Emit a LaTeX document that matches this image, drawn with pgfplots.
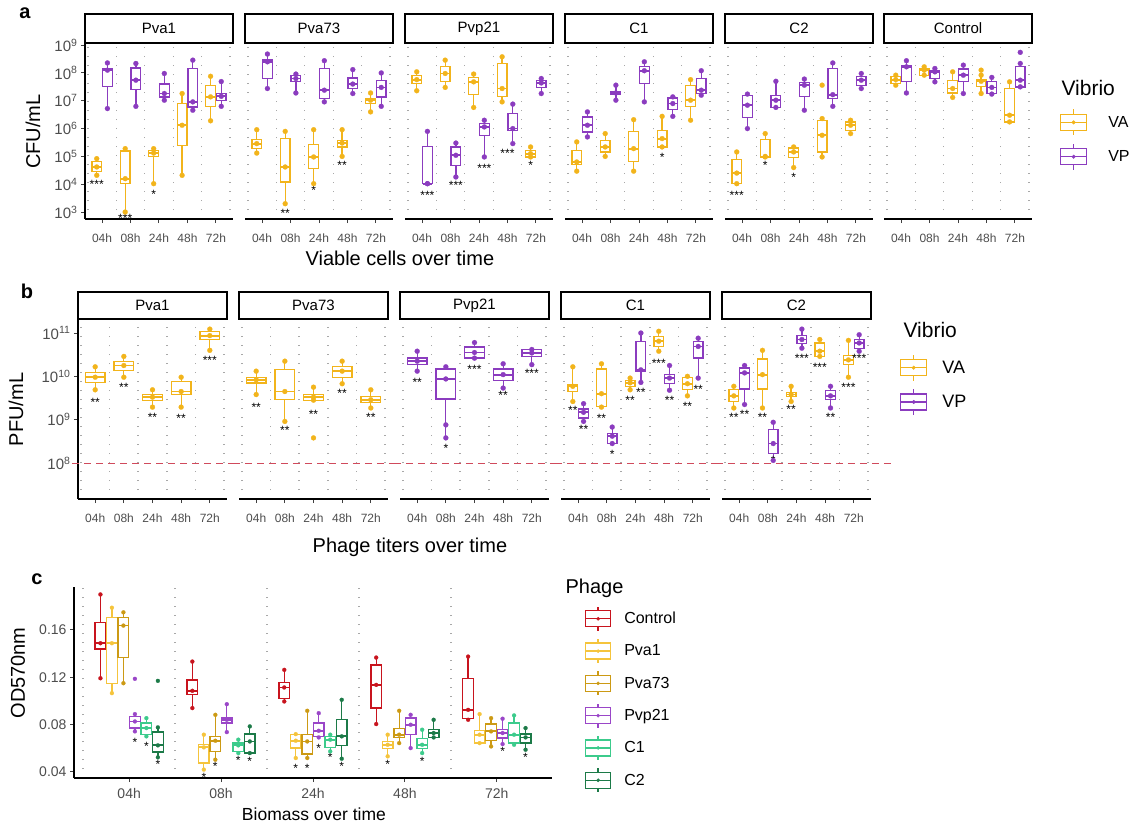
\documentclass[border=0pt]{standalone}
\usepackage{fontspec}
\setmainfont{Liberation Sans}
\usepackage{pgfplots}
\pgfplotsset{compat=1.18}
\usepgfplotslibrary{statistics}

\definecolor{cVA}{HTML}{F2B41B}
\definecolor{cVP}{HTML}{8B3CBF}
\definecolor{cCtl}{HTML}{C8141E}
\definecolor{cPa}{HTML}{F5C43C}
\definecolor{cPb}{HTML}{CC9A14}
\definecolor{cPc}{HTML}{9A46C8}
\definecolor{cCa}{HTML}{3CCB8C}
\definecolor{cCb}{HTML}{1C7A48}
\definecolor{gridc}{HTML}{A8A8A8}
\definecolor{tickc}{HTML}{4D4D4D}
\definecolor{hlc}{HTML}{D04A5C}

\newcommand{\MS}{2.5pt}
% color, pos, width, lw, lq, med, uq, uw, extra coords
\newcommand{\bx}[9]{\addplot[draw=#1, line width=1.3pt, mark=*, mark size=\MS, mark options={fill=#1, draw=#1, line width=0.2pt}, boxplot/draw direction=y,
  boxplot/every box/.style={draw=#1, line width=1.3pt}, boxplot/every whisker/.style={draw=#1, line width=1.3pt}, boxplot/every median/.style={draw=#1, line width=1.8pt},
  boxplot prepared={draw position=#2, box extend=#3, whisker extend=0, lower whisker=#4, lower quartile=#5, median=#6, upper quartile=#7, upper whisker=#8}] coordinates {(#2,#4) (#2,#6) (#2,#8) #9};}
\newcommand{\st}[3]{\node[font=\fontsize{12}{12}\selectfont, inner sep=0pt, yshift=-2pt] at (axis cs:#1,#2) {#3};}
\newcommand{\strip}[3]{\draw[line width=1.2pt, fill=white] ([yshift=1pt]axis description cs:0,1) rectangle ([yshift=#1pt]axis description cs:1,1);
\node[font=\fontsize{15}{15}\selectfont] at ([yshift=#2pt]axis description cs:0.5,1) {#3};}

\pgfplotsset{
 keyA/.style={legend image code/.code={\draw[#1, line width=1.3pt] (0pt,-8pt) rectangle (26pt,8pt); \draw[#1, line width=1.3pt] (0pt,0pt) -- (26pt,0pt); \draw[#1, line width=1.3pt] (13pt,8pt) -- (13pt,13pt); \draw[#1, line width=1.3pt] (13pt,-8pt) -- (13pt,-13pt); \fill[#1] (13pt,0pt) circle (1.8pt);}},
 keyC/.style={legend image code/.code={\draw[#1, line width=1.3pt] (0pt,-8pt) rectangle (25pt,8pt); \draw[#1, line width=1.3pt] (0pt,0pt) -- (25pt,0pt); \draw[#1, line width=1.3pt] (12.5pt,8pt) -- (12.5pt,12pt); \draw[#1, line width=1.3pt] (12.5pt,-8pt) -- (12.5pt,-12pt); \fill[#1] (12.5pt,0pt) circle (1.6pt);}},
 base/.style={scale only axis, xmin=0.4, xmax=5.6, clip=false, anchor=south west,
   axis x line*=bottom, axis y line*=left,
   axis line style={-, line width=1.2pt, black},
   xtick={1,2,3,4,5}, xticklabels={04h,08h,24h,48h,72h},
   tick align=outside, major tick length=4pt, minor tick length=0pt,
   tick style={line width=1pt, black!75},
   xminorgrids, minor grid style={draw=gridc, line width=1.4pt, dash pattern=on 1.4pt off 7.6pt},
   ticklabel style={text=tickc},
   minor xtick={0.5,1.5,2.5,3.5,4.5,5.5},
   xticklabel style={font=\fontsize{12}{12}\selectfont, yshift=-7pt},
   yticklabel style={font=\fontsize{15}{15}\selectfont},
   label style={font=\fontsize{20}{20}\selectfont},
 },
 fa/.style={base, width=148pt, height=175pt, ymin=2.75, ymax=9.04,
   ytick={3,4,5,6,7,8,9}, yticklabels={10\textsuperscript{3},10\textsuperscript{4},10\textsuperscript{5},10\textsuperscript{6},10\textsuperscript{7},10\textsuperscript{8},10\textsuperscript{9}}},
 fb/.style={base, width=149pt, height=179pt, ymin=7.17, ymax=11.3,
   ytick={8,9,10,11}, yticklabels={10\textsuperscript{8},10\textsuperscript{9},10\textsuperscript{10},10\textsuperscript{11}}},
 noy/.style={axis y line=none, ytick=\empty},
 thresh/.style={color=hlc, draw=hlc, line width=1pt, dash pattern=on 7pt off 5pt, forget plot},
}

\begin{document}
\begin{tikzpicture}
\useasboundingbox (0pt,0pt) rectangle (1130pt,-825pt);

% ================= Panel a =================
\begin{axis}[fa, at={(85pt,-219pt)},
  ylabel={CFU/mL}, ylabel style={at={(axis description cs:-0.351,0.5)}, anchor=center},
  xlabel={Viable cells over time}, xlabel style={at={(axis description cs:2.128,-0.223)}, anchor=center}]
\bx{cVA}{0.8125}{0.34}{4.32}{4.46}{4.62}{4.82}{4.92}{}
\bx{cVP}{1.1875}{0.34}{6.72}{7.52}{8.10}{8.16}{8.36}{}
\bx{cVA}{1.8125}{0.34}{3.00}{4.02}{4.20}{5.19}{5.28}{}
\bx{cVP}{2.1875}{0.34}{6.80}{7.40}{7.74}{8.18}{8.34}{}
\bx{cVA}{2.8125}{0.34}{4.02}{5.00}{5.12}{5.22}{5.28}{}
\bx{cVP}{3.1875}{0.34}{7.02}{7.14}{7.26}{7.60}{7.98}{}
\bx{cVA}{3.8125}{0.34}{4.32}{5.40}{6.12}{6.90}{7.26}{}
\bx{cVP}{4.1875}{0.34}{6.66}{6.78}{6.96}{8.16}{8.46}{}
\bx{cVA}{4.8125}{0.34}{6.28}{6.80}{7.14}{7.56}{7.88}{}
\bx{cVP}{5.1875}{0.34}{6.80}{7.02}{7.16}{7.26}{7.69}{}
\st{0.8125}{4.07}{***}
\st{1.8125}{2.85}{***}
\st{2.8125}{3.71}{*}
\strip{30}{15.5}{Pva1}
\node[font=\bfseries\fontsize{20}{20}\selectfont] at ([xshift=-60pt,yshift=31pt]axis description cs:0,1) {a};
\end{axis}

\begin{axis}[fa, noy, at={(245pt,-219pt)}]
\bx{cVA}{0.8125}{0.34}{5.12}{5.28}{5.46}{5.60}{5.96}{}
\bx{cVP}{1.1875}{0.34}{7.44}{7.80}{8.40}{8.46}{8.68}{}
\bx{cVA}{1.8125}{0.34}{3.30}{4.08}{4.62}{5.64}{5.90}{}
\bx{cVP}{2.1875}{0.34}{7.28}{7.70}{7.80}{7.92}{7.96}{}
\bx{cVA}{2.8125}{0.34}{4.02}{4.56}{4.98}{5.43}{5.96}{}
\bx{cVP}{3.1875}{0.34}{6.96}{7.08}{7.38}{8.16}{8.44}{}
\bx{cVA}{3.8125}{0.34}{5.00}{5.34}{5.48}{5.58}{5.96}{}
\bx{cVP}{4.1875}{0.34}{7.26}{7.44}{7.60}{7.82}{8.12}{}
\bx{cVA}{4.8125}{0.34}{6.60}{6.90}{7.02}{7.08}{7.28}{}
\bx{cVP}{5.1875}{0.34}{6.80}{7.14}{7.48}{7.74}{8.00}{}
\st{1.8125}{3.03}{**}
\st{2.8125}{3.86}{*}
\st{3.8125}{4.76}{**}
\strip{30}{15.5}{Pva73}
\end{axis}

\begin{axis}[fa, noy, at={(405pt,-219pt)}]
\bx{cVA}{0.8125}{0.34}{7.36}{7.62}{7.76}{7.92}{8.04}{}
\bx{cVP}{1.1875}{0.34}{4.02}{4.02}{4.02}{5.36}{5.90}{}
\bx{cVA}{1.8125}{0.34}{7.48}{7.68}{7.98}{8.22}{8.46}{}
\bx{cVP}{2.1875}{0.34}{4.26}{4.68}{5.04}{5.34}{5.48}{}
\bx{cVA}{2.8125}{0.34}{6.76}{7.22}{7.68}{7.84}{7.96}{}
\bx{cVP}{3.1875}{0.34}{4.98}{5.76}{6.06}{6.18}{6.30}{}
\bx{cVA}{3.8125}{0.34}{6.96}{7.16}{7.44}{8.34}{8.58}{}
\bx{cVP}{4.1875}{0.34}{5.46}{5.92}{6.00}{6.54}{6.88}{}
\bx{cVA}{4.8125}{0.34}{4.98}{4.98}{5.10}{5.22}{5.34}{}
\bx{cVP}{5.1875}{0.34}{7.26}{7.48}{7.64}{7.74}{7.80}{}
\st{1.1875}{3.68}{***}
\st{2.1875}{4.04}{***}
\st{3.1875}{4.65}{***}
\st{4.0}{5.19}{***}
\st{4.8125}{4.76}{*}
\strip{30}{15.5}{Pvp21}
\end{axis}

\begin{axis}[fa, noy, at={(565pt,-219pt)}]
\bx{cVA}{0.8125}{0.34}{4.47}{4.71}{4.80}{5.22}{5.52}{}
\bx{cVP}{1.1875}{0.34}{5.70}{5.88}{6.12}{6.42}{6.60}{}
\bx{cVA}{1.8125}{0.34}{5.00}{5.16}{5.34}{5.58}{5.82}{}
\bx{cVP}{2.1875}{0.34}{7.02}{7.24}{7.28}{7.32}{7.56}{}
\bx{cVA}{2.8125}{0.34}{4.47}{4.82}{5.28}{5.90}{6.32}{}
\bx{cVP}{3.1875}{0.34}{6.96}{7.62}{8.08}{8.24}{8.40}{}
\bx{cVA}{3.8125}{0.34}{5.34}{5.34}{5.64}{5.94}{6.44}{}
\bx{cVP}{4.1875}{0.34}{6.44}{6.68}{6.90}{7.10}{7.14}{}
\bx{cVA}{4.8125}{0.34}{6.30}{6.80}{7.02}{7.56}{7.76}{}
\bx{cVP}{5.1875}{0.34}{7.20}{7.26}{7.38}{7.80}{8.08}{}
\st{3.8125}{5.04}{*}
\strip{30}{15.5}{C1}
\end{axis}

\begin{axis}[fa, noy, at={(725pt,-219pt)}]
\bx{cVA}{0.8125}{0.34}{4.02}{4.02}{4.40}{4.88}{5.16}{}
\bx{cVP}{1.1875}{0.34}{6.00}{6.40}{6.84}{7.20}{7.24}{}
\bx{cVA}{1.8125}{0.34}{4.98}{4.98}{5.00}{5.60}{5.82}{}
\bx{cVP}{2.1875}{0.34}{6.76}{6.76}{7.02}{7.20}{7.70}{}
\bx{cVA}{2.8125}{0.34}{4.60}{4.96}{5.16}{5.30}{5.34}{}
\bx{cVP}{3.1875}{0.34}{6.66}{7.16}{7.56}{7.66}{7.78}{}
\bx{cVA}{3.8125}{0.34}{4.98}{5.16}{5.76}{6.28}{6.36}{(3.8125,7.56)}
\bx{cVP}{4.1875}{0.34}{6.80}{7.08}{7.22}{8.16}{8.36}{}
\bx{cVA}{4.8125}{0.34}{5.82}{5.94}{6.12}{6.24}{6.30}{}
\bx{cVP}{5.1875}{0.34}{7.44}{7.56}{7.74}{7.88}{7.98}{}
\st{0.8125}{3.68}{***}
\st{1.8125}{4.76}{*}
\st{2.8125}{4.32}{*}
\strip{30}{15.5}{C2}
\end{axis}

\begin{axis}[fa, noy, at={(884pt,-219pt)},
  legend style={at={(1.189,0.63)}, anchor=north west, draw=none, fill=none, inner sep=0pt, outer sep=0pt,
    font=\fontsize{16}{16}\selectfont, row sep=7pt, nodes={inner sep=0pt},
    /tikz/every odd column/.style={column sep=21pt}}, legend cell align=left]
\addlegendimage{keyA=cVA}
\addlegendentry{VA}
\addlegendimage{keyA=cVP}
\addlegendentry{VP}
\bx{cVA}{0.8125}{0.34}{7.56}{7.62}{7.76}{7.86}{7.92}{}
\bx{cVP}{1.1875}{0.34}{7.28}{7.68}{8.22}{8.28}{8.44}{}
\bx{cVA}{1.8125}{0.34}{7.92}{7.92}{8.10}{8.16}{8.22}{}
\bx{cVP}{2.1875}{0.34}{7.68}{7.80}{8.04}{8.10}{8.16}{}
\bx{cVA}{2.8125}{0.34}{7.12}{7.28}{7.44}{7.74}{8.04}{}
\bx{cVP}{3.1875}{0.34}{7.26}{7.68}{7.92}{8.14}{8.28}{}
\bx{cVA}{3.8125}{0.34}{7.26}{7.52}{7.70}{7.76}{7.92}{(3.8125,8.10)}
\bx{cVP}{4.1875}{0.34}{7.24}{7.26}{7.48}{7.70}{7.84}{}
\bx{cVA}{4.8125}{0.34}{6.24}{6.24}{6.48}{7.44}{7.68}{}
\bx{cVP}{5.1875}{0.34}{7.50}{7.50}{7.74}{8.22}{8.34}{(5.1875,8.74)}
\strip{30}{15.5}{Control}
\node[anchor=west, font=\fontsize{21}{21}\selectfont] at (axis description cs:1.176,0.749) {Vibrio};
\end{axis}

% ================= Panel b =================
\begin{axis}[fb, at={(78pt,-499pt)},
  ylabel={PFU/mL}, ylabel style={at={(axis description cs:-0.416,0.5)}, anchor=center},
  xlabel={Phage titers over time}, xlabel style={at={(axis description cs:2.228,-0.268)}, anchor=center}]
\addplot[thresh] coordinates {(0.2,8) (5.81,8)};
\bx{cVA}{1}{0.68}{9.69}{9.86}{9.98}{10.09}{10.22}{}
\bx{cVA}{2}{0.68}{9.98}{10.14}{10.25}{10.35}{10.46}{}
\bx{cVA}{3}{0.68}{9.29}{9.45}{9.52}{9.58}{9.69}{}
\bx{cVA}{4}{0.68}{9.29}{9.58}{9.65}{9.88}{9.98}{}
\bx{cVA}{5}{0.68}{10.60}{10.85}{10.94}{11.04}{11.09}{}
\st{1}{9.45}{**}
\st{2}{9.80}{**}
\st{3}{9.11}{**}
\st{4}{9.08}{**}
\st{5}{10.42}{***}
\strip{28}{14.5}{Pva1}
\node[font=\bfseries\fontsize{20}{20}\selectfont] at ([xshift=-51pt,yshift=29pt]axis description cs:0,1) {b};
\end{axis}

\begin{axis}[fb, noy, at={(239pt,-499pt)}]
\addplot[thresh] coordinates {(0.19,8) (5.81,8)};
\bx{cVA}{1}{0.68}{9.58}{9.85}{9.92}{9.98}{10.12}{}
\bx{cVA}{2}{0.68}{8.96}{9.46}{9.65}{10.15}{10.35}{}
\bx{cVA}{3}{0.68}{9.45}{9.45}{9.52}{9.58}{9.75}{(3,8.58)}
\bx{cVA}{4}{0.68}{9.83}{9.98}{10.12}{10.23}{10.35}{}
\bx{cVA}{5}{0.68}{9.27}{9.40}{9.46}{9.54}{9.69}{}
\st{1}{9.34}{**}
\st{2}{8.81}{**}
\st{3}{9.18}{**}
\st{4}{9.66}{**}
\st{5}{9.11}{**}
\strip{28}{14.5}{Pva73}
\end{axis}

\begin{axis}[fb, noy, at={(400pt,-499pt)}]
\addplot[thresh] coordinates {(0.19,8) (5.81,8)};
\bx{cVP}{1}{0.68}{10.12}{10.27}{10.35}{10.42}{10.58}{}
\bx{cVP}{2}{0.68}{8.58}{9.48}{9.94}{10.17}{10.22}{(2,8.88)}
\bx{cVP}{3}{0.68}{10.42}{10.42}{10.55}{10.68}{10.78}{}
\bx{cVP}{4}{0.68}{9.73}{9.91}{10.04}{10.17}{10.29}{}
\bx{cVP}{5}{0.68}{10.27}{10.46}{10.54}{10.62}{10.62}{}
\st{1}{9.91}{**}
\st{2}{8.39}{*}
\st{3}{10.21}{***}
\st{4}{9.61}{**}
\st{5}{10.12}{***}
\strip{28}{14.5}{Pvp21}
\end{axis}

\begin{axis}[fb, noy, at={(561pt,-499pt)}]
\addplot[thresh] coordinates {(0.19,8) (5.81,8)};
\bx{cVA}{0.8125}{0.34}{9.42}{9.65}{9.77}{9.82}{10.22}{}
\bx{cVP}{1.1875}{0.34}{8.96}{9.04}{9.17}{9.25}{9.37}{}
\bx{cVA}{1.8125}{0.34}{9.29}{9.31}{9.60}{10.17}{10.29}{}
\bx{cVP}{2.1875}{0.34}{8.45}{8.45}{8.62}{8.68}{8.83}{}
\bx{cVA}{2.8125}{0.34}{9.69}{9.77}{9.85}{9.91}{9.96}{}
\bx{cVP}{3.1875}{0.34}{9.86}{10.12}{10.15}{10.81}{11.00}{}
\bx{cVA}{3.8125}{0.34}{10.58}{10.69}{10.81}{10.92}{11.04}{}
\bx{cVP}{4.1875}{0.34}{9.68}{9.83}{9.96}{10.04}{10.25}{}
\bx{cVA}{4.8125}{0.34}{9.55}{9.69}{9.83}{9.98}{10.00}{}
\bx{cVP}{5.1875}{0.34}{9.96}{10.42}{10.69}{10.81}{10.88}{}
\st{0.8125}{9.27}{**}
\st{1.1875}{8.83}{**}
\st{1.8125}{9.08}{**}
\st{2.1875}{8.25}{*}
\st{2.8125}{9.50}{**}
\st{3.1875}{9.68}{**}
\st{3.8125}{10.35}{***}
\st{4.1875}{9.50}{**}
\st{4.8125}{9.36}{**}
\st{5.1875}{9.75}{**}
\strip{28}{14.5}{C1}
\end{axis}

\begin{axis}[fb, noy, at={(722pt,-499pt)},
  legend style={at={(1.195,0.81)}, anchor=north west, draw=none, fill=none, inner sep=0pt, outer sep=0pt,
    font=\fontsize{18}{18}\selectfont, row sep=7pt, nodes={inner sep=0pt},
    /tikz/every odd column/.style={column sep=15pt}}, legend cell align=left]
\addlegendimage{keyA=cVA}
\addlegendentry{VA}
\addlegendimage{keyA=cVP}
\addlegendentry{VP}
\addplot[thresh] coordinates {(0.19,8) (6.4,8)};
\bx{cVA}{0.8125}{0.34}{9.27}{9.42}{9.55}{9.69}{9.77}{}
\bx{cVP}{1.1875}{0.34}{9.35}{9.71}{10.08}{10.19}{10.25}{}
\bx{cVA}{1.8125}{0.34}{9.27}{9.71}{10.04}{10.40}{10.60}{}
\bx{cVP}{2.1875}{0.34}{8.06}{8.22}{8.45}{8.77}{8.94}{}
\bx{cVA}{2.8125}{0.34}{9.42}{9.54}{9.58}{9.62}{9.77}{}
\bx{cVP}{3.1875}{0.34}{10.65}{10.75}{10.85}{10.94}{11.09}{}
\bx{cVA}{3.8125}{0.34}{10.46}{10.46}{10.58}{10.77}{10.85}{}
\bx{cVP}{4.1875}{0.34}{9.27}{9.46}{9.55}{9.68}{9.77}{}
\bx{cVA}{4.8125}{0.34}{9.98}{10.27}{10.38}{10.48}{10.83}{}
\bx{cVP}{5.1875}{0.34}{10.58}{10.65}{10.77}{10.85}{10.96}{}
\st{0.8125}{9.11}{**}
\st{1.1875}{9.18}{**}
\st{1.8125}{9.11}{**}
\st{2.1875}{8.11}{*}
\st{2.8125}{9.29}{**}
\st{3.1875}{10.47}{***}
\st{3.8125}{10.26}{***}
\st{4.1875}{9.11}{**}
\st{4.8125}{9.80}{***}
\st{5.1875}{10.45}{***}
\strip{28}{14.5}{C2}
\node[anchor=west, font=\fontsize{21}{21}\selectfont] at (axis description cs:1.195,0.944) {Vibrio};
\end{axis}

% ================= Panel c =================
\renewcommand{\MS}{2pt}
\begin{axis}[base, at={(74pt,-778pt)}, width=478pt, height=191pt, ymin=0.0349, ymax=0.1963,
  minor xtick={0.5,1.5,2.5,3.5,4.5},
  ytick={0.04,0.08,0.12,0.16}, yticklabels={0.04,0.08,0.12,0.16},
  xticklabel style={font=\fontsize{14}{14}\selectfont, yshift=4pt},
  yticklabel style={font=\fontsize{14}{14}\selectfont},
  ylabel={OD570nm}, ylabel style={at={(axis description cs:-0.117,0.55)}, anchor=center},
  xlabel={Biomass over time}, xlabel style={at={(axis description cs:0.502,-0.188)}, anchor=center, font=\fontsize{17.5}{17.5}\selectfont},
  legend style={at={(1.069,0.90)}, anchor=north west, draw=none, fill=none, inner sep=0pt, outer sep=0pt,
    font=\fontsize{16}{16}\selectfont, row sep=7pt, nodes={inner sep=0pt},
    /tikz/every odd column/.style={column sep=13pt}}, legend cell align=left]
\addlegendimage{keyC=cCtl}
\addlegendentry{Control}
\addlegendimage{keyC=cPa}
\addlegendentry{Pva1}
\addlegendimage{keyC=cPb}
\addlegendentry{Pva73}
\addlegendimage{keyC=cPc}
\addlegendentry{Pvp21}
\addlegendimage{keyC=cCa}
\addlegendentry{C1}
\addlegendimage{keyC=cCb}
\addlegendentry{C2}
% 04h
\bx{cCtl}{0.6875}{0.115}{0.1192}{0.1440}{0.1488}{0.1662}{0.1900}{}
\bx{cPa}{0.8125}{0.115}{0.1066}{0.1150}{0.1488}{0.1704}{0.1788}{}
\bx{cPb}{0.9375}{0.115}{0.1150}{0.1367}{0.1637}{0.1704}{0.1749}{}
\bx{cPc}{1.0625}{0.115}{0.0743}{0.0771}{0.0827}{0.0869}{0.0889}{(1.0625,0.1187)}
\bx{cCa}{1.1875}{0.115}{0.0701}{0.0715}{0.0771}{0.0813}{0.0855}{}
\bx{cCb}{1.3125}{0.115}{0.0524}{0.0569}{0.0625}{0.0737}{0.0777}{(1.3125,0.1170)}
% 08h
\bx{cCtl}{1.6875}{0.115}{0.0940}{0.1052}{0.1086}{0.1178}{0.1333}{}
\bx{cPa}{1.8125}{0.115}{0.0420}{0.0476}{0.0608}{0.0630}{0.0715}{}
\bx{cPb}{1.9375}{0.115}{0.0504}{0.0574}{0.0664}{0.0701}{0.0883}{}
\bx{cPc}{2.0625}{0.115}{0.0737}{0.0813}{0.0841}{0.0855}{0.0973}{}
\bx{cCa}{2.1875}{0.115}{0.0560}{0.0574}{0.0625}{0.0644}{0.0673}{}
\bx{cCb}{2.3125}{0.115}{0.0560}{0.0560}{0.0658}{0.0720}{0.0785}{}
% 24h
\bx{cCtl}{2.6875}{0.115}{0.0996}{0.1018}{0.1114}{0.1156}{0.1263}{}
\bx{cPa}{2.8125}{0.115}{0.0518}{0.0602}{0.0664}{0.0715}{0.0720}{}
\bx{cPb}{2.9375}{0.115}{0.0518}{0.0552}{0.0658}{0.0715}{0.0917}{}
\bx{cPc}{3.0625}{0.115}{0.0692}{0.0701}{0.0748}{0.0813}{0.0897}{}
\bx{cCa}{3.1875}{0.115}{0.0574}{0.0608}{0.0673}{0.0701}{0.0715}{}
\bx{cCb}{3.3125}{0.115}{0.0512}{0.0625}{0.0701}{0.0841}{0.1010}{}
% 48h
\bx{cCtl}{3.6875}{0.115}{0.0805}{0.0940}{0.1136}{0.1305}{0.1367}{}
\bx{cPa}{3.8125}{0.115}{0.0532}{0.0597}{0.0630}{0.0658}{0.0715}{}
\bx{cPb}{3.9375}{0.115}{0.0644}{0.0692}{0.0715}{0.0765}{0.0917}{}
\bx{cPc}{4.0625}{0.115}{0.0602}{0.0715}{0.0799}{0.0855}{0.0883}{}
\bx{cCa}{4.1875}{0.115}{0.0560}{0.0597}{0.0630}{0.0681}{0.0757}{}
\bx{cCb}{4.3125}{0.115}{0.0692}{0.0692}{0.0729}{0.0757}{0.0841}{}
% 72h
\bx{cCtl}{4.6875}{0.115}{0.0841}{0.0850}{0.0925}{0.1192}{0.1375}{}
\bx{cPa}{4.8125}{0.115}{0.0644}{0.0644}{0.0715}{0.0748}{0.0889}{}
\bx{cPb}{4.9375}{0.115}{0.0616}{0.0664}{0.0743}{0.0805}{0.0855}{}
\bx{cPc}{5.0625}{0.115}{0.0636}{0.0687}{0.0729}{0.0757}{0.0850}{}
\bx{cCa}{5.1875}{0.115}{0.0630}{0.0644}{0.0715}{0.0813}{0.0878}{}
\bx{cCb}{5.3125}{0.115}{0.0588}{0.0644}{0.0692}{0.0720}{0.0771}{}
% stars
\st{1.0625}{0.0670}{*}
\st{1.1875}{0.0630}{*}
\st{1.3125}{0.0485}{*}
\st{1.8125}{0.0375}{*}
\st{1.9375}{0.0468}{*}
\st{2.1875}{0.0518}{*}
\st{2.3125}{0.0510}{*}
\st{2.8125}{0.0450}{*}
\st{2.9375}{0.0450}{*}
\st{3.0625}{0.0620}{*}
\st{3.1875}{0.0540}{*}
\st{3.3125}{0.0468}{*}
\st{3.8125}{0.0485}{*}
\st{4.1875}{0.0510}{*}
\st{5.0625}{0.0594}{*}
\st{5.3125}{0.0540}{*}
\node[anchor=west, font=\fontsize{20}{20}\selectfont] at (axis description cs:1.021,0.995) {Phage};
\node[font=\bfseries\fontsize{20}{20}\selectfont] at ([xshift=-37pt,yshift=8pt]axis description cs:0,1) {c};
\end{axis}
\end{tikzpicture}
\end{document}
